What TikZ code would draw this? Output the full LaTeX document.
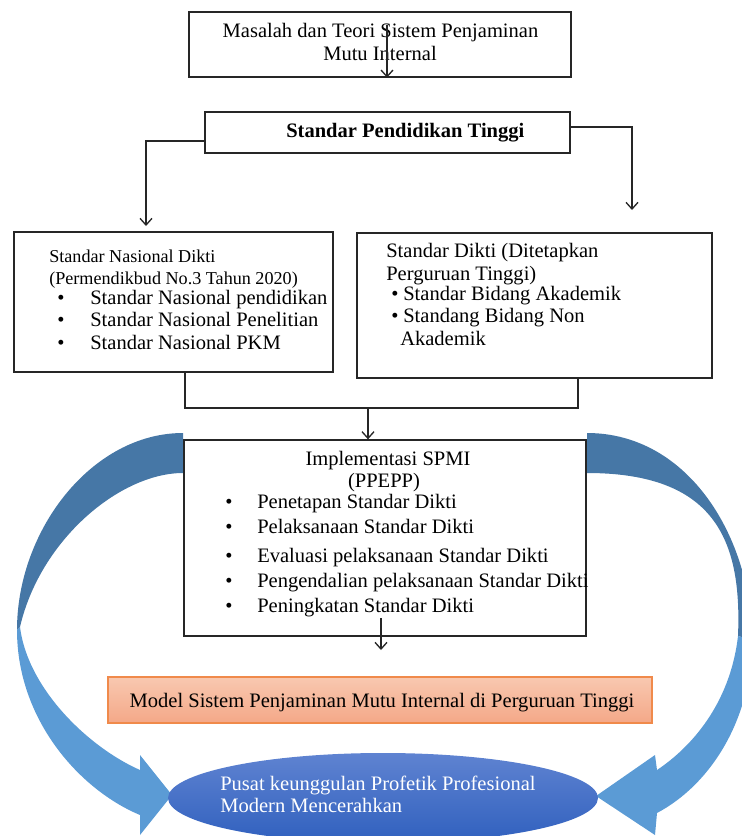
\documentclass[tikz,border=0pt]{standalone}
\usepackage{fontspec}
\setmainfont{Liberation Serif}
\usetikzlibrary{arrows.meta,shapes.geometric}

\definecolor{edge}{HTML}{262626}
\definecolor{banddark}{HTML}{4677A6}
\definecolor{bandlight}{HTML}{5B9BD5}
\definecolor{ovaltop}{HTML}{5F83D1}
\definecolor{ovalbot}{HTML}{3060BE}
\definecolor{peachtop}{HTML}{F8C8B0}
\definecolor{peachbot}{HTML}{F4A888}
\definecolor{peachedge}{HTML}{F08A4B}

\tikzset{
  sz/.style 2 args={minimum width=#1*0.75pt, minimum height=#2*0.75pt},
  box/.style={draw=edge, line width=1pt, fill=white, inner sep=0pt},
  body/.style={inner sep=0pt, font=\fontsize{15.4}{18}\selectfont},
  lt/.style={body, anchor=base west},
  ct/.style={body, anchor=base},
  small/.style={inner sep=0pt, anchor=base west, font=\fontsize{13.6}{16}\selectfont},
  link/.style={draw=edge, line width=1pt},
  arr/.style={link, -{Straight Barb[length=5pt,width=9pt,line width=1pt]}}
}

\begin{document}
\begin{tikzpicture}[x=0.75pt,y=-0.75pt]
\useasboundingbox (0,0) rectangle (742,836);
\clip (0,0) rectangle (742,836);

% curved return arrows (back face darker, front face lighter)
\fill[banddark] (183,433) .. controls (92,433) and (17,530) .. (17,630)
  -- (20,627) .. controls (40,540) and (120,473) .. (183,473) -- cycle;
\fill[bandlight] (17,630) .. controls (17,720) and (80,790) .. (140,815)
  -- (140,835) -- (172,795) -- (140,755) -- (140,770)
  .. controls (90,748) and (28,690) .. (20,627) -- cycle;

\fill[banddark] (587,433) .. controls (690,433) and (752,540) .. (752,640)
  -- (738,636) .. controls (742,540) and (715,473) .. (587,473) -- cycle;
\fill[bandlight] (752,640) .. controls (752,720) and (710,785) .. (657,813)
  -- (655,835) -- (596,796) -- (655,755) -- (657,770)
  .. controls (690,748) and (730,705) .. (738,636) -- cycle;

% boxes
\node[box, sz={382}{65}] (b1) at (380,44.5) {};
\node[box, sz={365}{41}] (b2) at (387.5,132.5) {};
\node[box, sz={319}{140}] (b3) at (173.5,302) {};
\node[box, sz={355}{145}] (b4) at (534.5,305.5) {};
\node[box, sz={402}{196}] (b5) at (385,538) {};
\node[draw=peachedge, line width=0.8pt, top color=peachtop, bottom color=peachbot,
      inner sep=0pt, sz={544}{46}] (b6) at (380,700) {};
\node[ellipse, top color=ovaltop, bottom color=ovalbot, inner sep=0pt,
      sz={430}{90}] (b7) at (383,798) {};

% texts
\node[ct] (t1a) at (380.5,37) {Masalah dan Teori Sistem Penjaminan};
\node[ct] (t1b) at (380,60) {Mutu Internal};
\node[lt, font=\fontsize{15.4}{18}\selectfont\bfseries] (t2) at (286,137) {Standar Pendidikan Tinggi};

\node[small] (t3a) at (49,262) {Standar Nasional Dikti};
\node[small] (t3b) at (49,284) {(Permendikbud No.3 Tahun 2020)};
\node[lt] (u3a) at (57,304) {\textbullet};
\node[lt] (t3c) at (90,304) {Standar Nasional pendidikan};
\node[lt] (u3b) at (57,326) {\textbullet};
\node[lt] (t3d) at (90,326) {Standar Nasional Penelitian};
\node[lt] (u3c) at (57,349) {\textbullet};
\node[lt] (t3e) at (90,349) {Standar Nasional PKM};

\node[lt] (t4a) at (386,257) {Standar Dikti (Ditetapkan};
\node[lt] (t4b) at (386,280) {Perguruan Tinggi)};
\node[lt] (u4a) at (391,300) {\textbullet};
\node[lt] (t4c) at (403,300) {Standar Bidang Akademik};
\node[lt] (u4b) at (391,322) {\textbullet};
\node[lt] (t4d) at (403,322) {Standang Bidang Non};
\node[lt] (t4e) at (400,345) {Akademik};

\node[ct] (t5a) at (388,465) {Implementasi SPMI};
\node[ct] (t5b) at (384,487) {(PPEPP)};
\foreach \y/\s [count=\i] in {508/Penetapan Standar Dikti, 533/Pelaksanaan Standar Dikti,
    562/Evaluasi pelaksanaan Standar Dikti, 587/Pengendalian pelaksanaan Standar Dikti,
    612/Peningkatan Standar Dikti}{
  \node[lt] (u5\i) at (225,\y) {\textbullet};
  \node[lt] (t5\i) at (257,\y) {\s};
}

\node[ct] (t6) at (382,707) {Model Sistem Penjaminan Mutu Internal di Perguruan Tinggi};
\node[lt, text=white] (t7a) at (220,790) {Pusat keunggulan Profetik Profesional};
\node[lt, text=white] (t7b) at (220,812) {Modern Mencerahkan};

% connectors
\coordinate (s0) at (387,25);
\draw[arr] (s0) -- (s0 |- b1.south);

\coordinate (l0) at (146,141);
\coordinate (l1) at (146,226);
\draw[arr] (b2.west |- l0) -- (l0) -- (l1);

\coordinate (r0) at (632,127);
\coordinate (r1) at (632,210);
\draw[arr] (b2.east |- r0) -- (r0) -- (r1);

\coordinate (j0) at (185,408);
\coordinate (j1) at (578,408);
\draw[link] (b3.south -| j0) -- (j0) -- (j1) -- (b4.south -| j1);
\coordinate (j2) at (368,408);
\draw[arr] (j2) -- (j2 |- b5.north);

\coordinate (k0) at (381,618);
\coordinate (k1) at (381,650);
\draw[arr] (k0) -- (k1);
\end{tikzpicture}
\end{document}
